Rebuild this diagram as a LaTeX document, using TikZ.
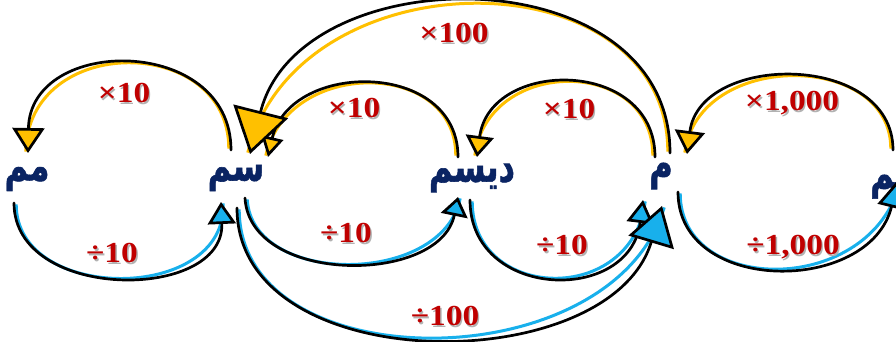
\documentclass[tikz,border=0pt]{standalone}
\usepackage{fontspec}
\usepackage{graphicx}
\setmainfont{Liberation Serif}
\newfontfamily\labfont[FakeStretch=1.15]{Liberation Serif}
\newfontfamily\arabicfont[Script=Arabic,BoldFeatures={FakeBold=1.4}]{DejaVu Sans}
\TeXXeTstate=1
\usetikzlibrary{arrows.meta}
\definecolor{org}{HTML}{FFC000}
\definecolor{sky}{HTML}{18B0EC}
\definecolor{navy}{HTML}{0A2463}
\definecolor{dred}{HTML}{C00000}
\newcommand\shd[1]{\leavevmode\rlap{\kern1.4pt\raisebox{-1.4pt}{\textcolor{black!30}{#1}}}#1}
\newcommand\ar[1]{\scalebox{1}[1.35]{\beginR #1\endR}}
\begin{document}
\begin{tikzpicture}[x=1pt,y=-1pt,
  unit/.style={font=\arabicfont\bfseries\fontsize{32}{32}\selectfont, text=navy, inner sep=0pt},
  factor/.style={font=\labfont\bfseries\fontsize{29}{29}\selectfont, text=dred, inner sep=0pt},
  arcline/.style={draw=black, line width=2.7pt, line cap=round},
  topsh/.style={draw=org, line width=3pt, transform canvas={shift={(-2.2pt,1.4pt)}}},
  botsh/.style={draw=sky, line width=3pt, transform canvas={shift={(2.2pt,-1.4pt)}}},
  otip/.style 2 args={-{Triangle[length=#1pt,width=#2pt,fill=org]}},
  btip/.style 2 args={-{Triangle[length=#1pt,width=#2pt,fill=sky]}}]
\useasboundingbox (0,0) rectangle (896,342);
\fill[white] (0,0) rectangle (896,342);

% unit nodes
\node[unit] (mm)  at (27,179)  {\ar{مم}};
\node[unit] (sm)  at (236,178) {\ar{سم}};
\node[unit] (dsm) at (472,178) {\ar{ديسم}};
\node[unit] (m)   at (661,176) {\ar{م}};
\node[unit] (km)  at (892,177) {\ar{كم}};

% end points
\coordinate (a1s) at (231,150); \coordinate (a1e) at (28,153);
\coordinate (a2s) at (14,203);  \coordinate (a2e) at (221,202);
\coordinate (a3s) at (458,157); \coordinate (a3e) at (268,157);
\coordinate (a4s) at (245,198); \coordinate (a4e) at (458,197);
\coordinate (a5s) at (655,157); \coordinate (a5e) at (477,157);
\coordinate (a6s) at (470,200); \coordinate (a6e) at (643,200);
\coordinate (a7s) at (670,153); \coordinate (a7e) at (250,154);
\coordinate (a8s) at (237,208); \coordinate (a8e) at (662,206);
\coordinate (a9s) at (893,150); \coordinate (a9e) at (687,154);
\coordinate (a10s) at (678,192); \coordinate (a10e) at (898,180);

% shadows
\draw[topsh] (a1s) .. controls (231,35) and (30,35) .. (a1e);
\draw[botsh] (a2s) .. controls (14,302) and (225,302) .. (a2e);
\draw[topsh] (a3s) .. controls (458,60) and (290,60) .. (a3e);
\draw[botsh] (a4s) .. controls (250,285) and (440,285) .. (a4e);
\draw[topsh] (a5s) .. controls (655,58) and (490,58) .. (a5e);
\draw[botsh] (a6s) .. controls (470,300) and (630,305) .. (a6e);
\draw[topsh] (a7s) .. controls (670,-45) and (300,-45) .. (a7e);
\draw[botsh] (a8s) .. controls (237,380) and (610,380) .. (a8e);
\draw[topsh] (a9s) .. controls (893,52) and (700,52) .. (a9e);
\draw[botsh] (a10s) .. controls (678,295) and (870,295) .. (a10e);

% connectors
\draw[arcline, otip={25}{32}] (a1s) .. controls (231,35) and (30,35) .. (a1e);
\draw[arcline, btip={22}{28}] (a2s) .. controls (14,302) and (225,302) .. (a2e);
\draw[arcline, otip={20}{22}] (a3s) .. controls (458,60) and (290,60) .. (a3e);
\draw[arcline, btip={19}{27}] (a4s) .. controls (250,285) and (440,285) .. (a4e);
\draw[arcline, otip={21}{28}] (a5s) .. controls (655,58) and (490,58) .. (a5e);
\draw[arcline, btip={23}{27}] (a6s) .. controls (470,300) and (630,305) .. (a6e);
\draw[arcline, otip={44}{56}] (a7s) .. controls (670,-45) and (300,-45) .. (a7e);
\draw[arcline, btip={38}{47}] (a8s) .. controls (237,380) and (610,380) .. (a8e);
\draw[arcline, otip={23}{30}] (a9s) .. controls (893,52) and (700,52) .. (a9e);
\draw[arcline, btip={28}{28}] (a10s) .. controls (678,295) and (870,295) .. (a10e);

% factor labels
\node[factor] (l1)  at (124,94)  {\shd{×10}};
\node[factor] (l2)  at (112,254) {\shd{÷10}};
\node[factor] (l3)  at (354,109) {\shd{×10}};
\node[factor] (l4)  at (346,234) {\shd{÷10}};
\node[factor] (l5)  at (569,110) {\shd{×10}};
\node[factor] (l6)  at (562,246) {\shd{÷10}};
\node[factor] (l7)  at (454,34)  {\shd{×100}};
\node[factor] (l8)  at (445,317) {\shd{÷100}};
\node[factor] (l9)  at (792,104) {\shd{×1,000}};
\node[factor] (l10) at (793,248) {\shd{÷1,000}};
\end{tikzpicture}
\end{document}
